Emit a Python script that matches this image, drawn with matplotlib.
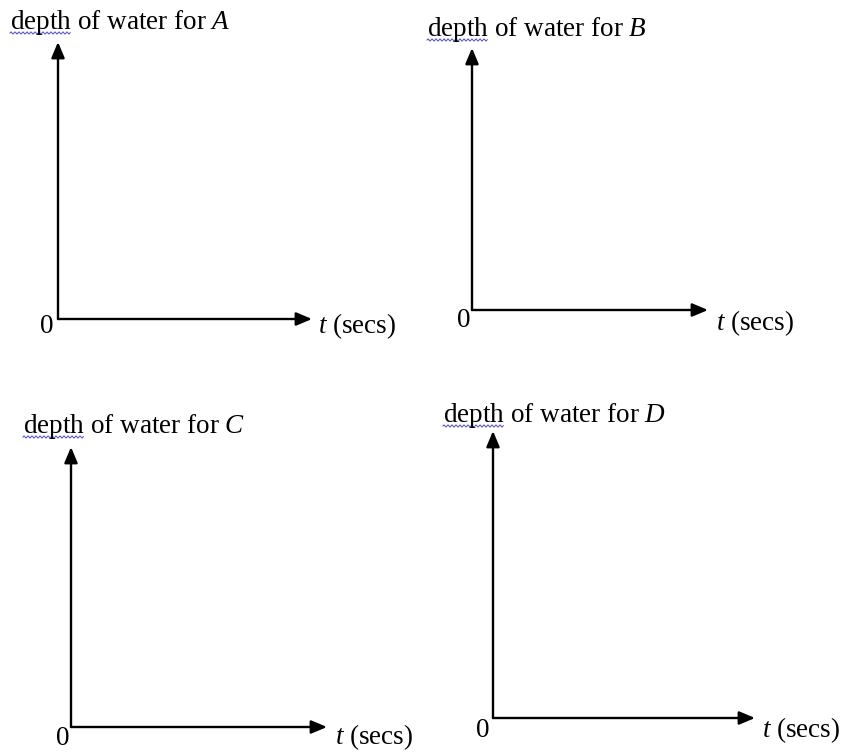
import numpy as np
import matplotlib
matplotlib.use("Agg")
import matplotlib.pyplot as plt

plt.rcParams["font.family"] = ["Liberation Serif", "DejaVu Serif"]
plt.rcParams["mathtext.fontset"] = "custom"
plt.rcParams["mathtext.rm"] = "Liberation Serif"
plt.rcParams["mathtext.it"] = "Liberation Serif:italic"

# Content of the four blank graphs
tanks = ["A", "B", "C", "D"]
y_label = "depth of water for"
x_label = r"$t$ (secs)"
origin_label = "0"

W, H = 844, 752
fig = plt.figure(figsize=(W / 100, H / 100), dpi=100)
fig.patch.set_facecolor("white")

# pixel layout of each panel: origin x, origin y, x-arrow end, y-arrow top,
# title left/baseline, "0" centre/baseline, x-label left/baseline
layout = {
    "A": dict(ox=58, oy=319, xe=312, yt=42, tx=10, ty=29, zx=47, zy=333, lx=318, ly=333),
    "B": dict(ox=472, oy=310, xe=708, yt=48, tx=427, ty=36, zx=464, zy=327, lx=716, ly=330),
    "C": dict(ox=71, oy=727, xe=327, yt=447, tx=23, ty=433, zx=63, zy=745, lx=335, ly=744),
    "D": dict(ox=493, oy=718, xe=755, yt=431, tx=443, ty=422, zx=483, zy=737, lx=762, ly=737),
}

FS = 19.5


def fx(px):
    return px / W


def fy(py):
    return 1 - py / H


renderer = fig.canvas.get_renderer()

for name in tanks:
    p = layout[name]
    ax = fig.add_axes([fx(p["ox"]), fy(p["oy"]),
                       (p["xe"] - p["ox"]) / W, (p["oy"] - p["yt"]) / H])
    ax.set_xlim(0, 1)
    ax.set_ylim(0, 1)
    ax.axis("off")
    arrow = dict(arrowstyle="-|>,head_length=0.95,head_width=0.4",
                 color="black", lw=1.7, shrinkA=0, shrinkB=0)
    ax.annotate("", xy=(1, 0), xytext=(0, 0), arrowprops=arrow,
                annotation_clip=False)
    ax.annotate("", xy=(0, 1), xytext=(0, 0), arrowprops=arrow,
                annotation_clip=False)

    fig.text(fx(p["tx"]), fy(p["ty"]), f"{y_label} ${name}$",
             fontsize=FS, ha="left", va="baseline")
    fig.text(fx(p["zx"]), fy(p["zy"]), origin_label,
             fontsize=FS, ha="center", va="baseline")
    fig.text(fx(p["lx"]), fy(p["ly"]), x_label,
             fontsize=FS, ha="left", va="baseline")

    # wavy spell-check underline beneath the word "depth"
    probe = fig.text(fx(p["tx"]), fy(p["ty"]), "depth", fontsize=FS,
                     ha="left", va="baseline", alpha=0)
    bb = probe.get_window_extent(renderer)
    probe.remove()
    xs = np.linspace(bb.x0, bb.x1, 200)
    ys = (H - p["ty"] - 4) + 1.0 * np.sin((xs - bb.x0) / 4.0 * 2 * np.pi)
    fig.add_artist(plt.Line2D(xs / W, ys / H, color="#4a4ad6", lw=0.7,
                              transform=fig.transFigure))

fig.savefig("out.png", dpi=100, facecolor="white")
